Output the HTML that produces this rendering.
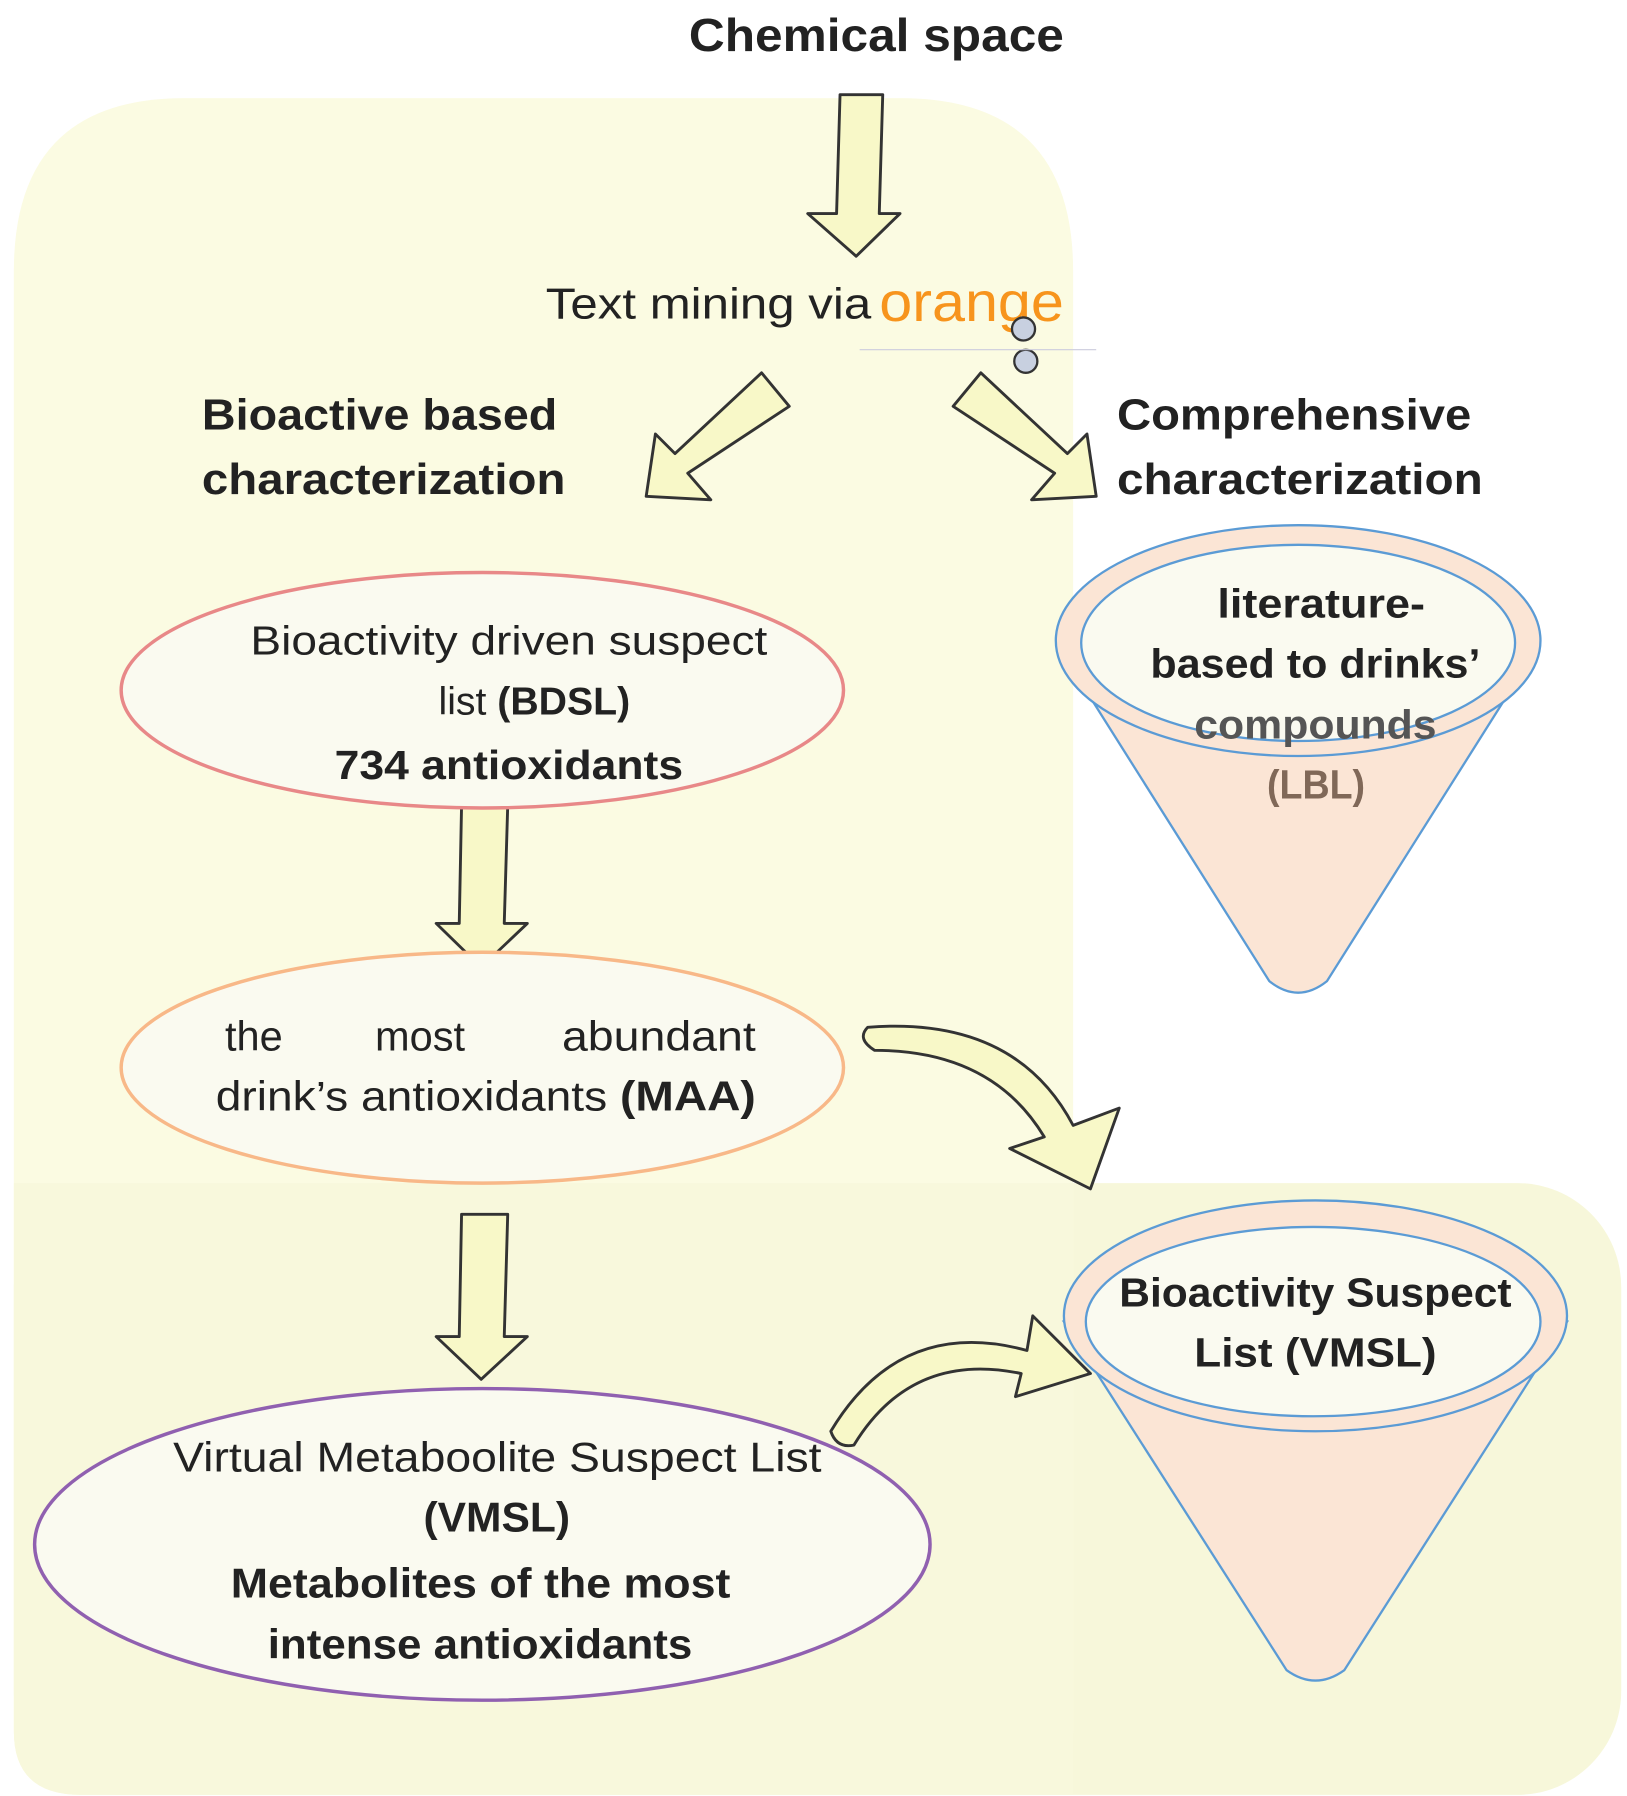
<!DOCTYPE html>
<html><head><meta charset="utf-8"><style>
html,body{margin:0;padding:0;background:#fff}
svg{display:block}
text{font-family:"Liberation Sans",sans-serif;fill:#222}
.b{font-weight:bold}
</style></head><body>
<svg width="1627" height="1796" viewBox="0 0 1410 1556" preserveAspectRatio="none" xmlns="http://www.w3.org/2000/svg">
<rect x="12" y="1025" width="1393" height="530" rx="90" fill="#f7f7da"/>
<path d="M160 85 H780 Q930 85 930 235 V1500 Q930 1555 875 1555 H70 Q12 1555 12 1500 V235 Q12 85 160 85 Z" fill="#fbfbe2"/>
<path d="M12 1025 H930 V1555 H70 Q12 1555 12 1500 Z" fill="#f8f8dc"/>
<text x="597" y="44" class="b" font-size="40" textLength="325" lengthAdjust="spacingAndGlyphs">Chemical space</text>
<g fill="#f8f8c8" stroke="#333" stroke-width="2.5" stroke-linejoin="round">
<polygon points="728,82 765,82 762,185 780,185 742,222 700,185 725,185"/>
<polygon points="400,698 440,698 437,800 457,800 417,838 378,800 398,800"/>
<polygon points="400,1052 440,1052 437,1158 457,1158 417,1195 378,1158 398,1158"/>
<polygon points="660,323 684,352 596,410 616,433 560,430 568,376 585,393"/>
<polygon points="850,323 826,352 914,410 894,433 950,430 942,376 925,393"/>
<path d="M752 890 Q880 880 930 975 L970 960 L945 1030 L875 995 L905 985 Q860 910 758 910 Q742 900 752 890 Z"/>
<path d="M720 1240 Q780 1140 890 1170 L895 1140 L945 1190 L880 1210 L885 1190 Q790 1170 740 1252 Q725 1255 720 1240 Z"/>
</g>
<text x="473" y="276" font-size="38" textLength="282" lengthAdjust="spacingAndGlyphs">Text mining via</text>
<text x="762" y="278" font-size="48" style="fill:#f7941d" textLength="160" lengthAdjust="spacingAndGlyphs">orange</text>
<circle cx="887" cy="285" r="10" fill="#c8d0e0" stroke="#333" stroke-width="2"/>
<circle cx="889" cy="313" r="10" fill="#c8d0e0" stroke="#333" stroke-width="2"/>
<line x1="745" y1="303" x2="950" y2="303" stroke="#ccd" stroke-width="1"/>
<text x="175" y="372" class="b" font-size="38" textLength="308" lengthAdjust="spacingAndGlyphs">Bioactive based</text>
<text x="175" y="428" class="b" font-size="38" textLength="315" lengthAdjust="spacingAndGlyphs">characterization</text>
<text x="968" y="372" class="b" font-size="38" textLength="307" lengthAdjust="spacingAndGlyphs">Comprehensive</text>
<text x="968" y="428" class="b" font-size="38" textLength="317" lengthAdjust="spacingAndGlyphs">characterization</text>
<ellipse cx="418" cy="598" rx="313" ry="102" fill="#fafaf0" stroke="#e88888" stroke-width="3"/>
<text x="217" y="567" font-size="35" textLength="448" lengthAdjust="spacingAndGlyphs">Bioactivity driven suspect</text>
<text x="380" y="619" font-size="34">list <tspan class="b">(BDSL)</tspan></text>
<text x="290" y="675" class="b" font-size="35" textLength="302" lengthAdjust="spacingAndGlyphs">734 antioxidants</text>
<ellipse cx="418" cy="925" rx="313" ry="100" fill="#fafaf0" stroke="#f8b888" stroke-width="3"/>
<text x="195" y="910" font-size="36">the</text>
<text x="325" y="910" font-size="36">most</text>
<text x="487" y="910" font-size="36" textLength="168" lengthAdjust="spacingAndGlyphs">abundant</text>
<text x="187" y="962" font-size="36" textLength="468" lengthAdjust="spacingAndGlyphs">drink’s antioxidants <tspan class="b">(MAA)</tspan></text>
<ellipse cx="418" cy="1338" rx="388" ry="135" fill="#fafaf0" stroke="#9060b0" stroke-width="3"/>
<text x="150" y="1275" font-size="36" textLength="562" lengthAdjust="spacingAndGlyphs">Virtual Metaboolite Suspect List</text>
<text x="367" y="1327" class="b" font-size="36" textLength="127" lengthAdjust="spacingAndGlyphs">(VMSL)</text>
<text x="200" y="1384" class="b" font-size="36" textLength="433" lengthAdjust="spacingAndGlyphs">Metabolites of the most</text>
<text x="232" y="1437" class="b" font-size="36" textLength="368" lengthAdjust="spacingAndGlyphs">intense antioxidants</text>
<path d="M917 560 L1100 850 Q1125 870 1150 850 L1333 560 Z" fill="#fbe5d5" stroke="#5b9bd5" stroke-width="2"/>
<ellipse cx="1125" cy="555" rx="210" ry="100" fill="#fbe5d5" stroke="#5b9bd5" stroke-width="2"/>
<ellipse cx="1125" cy="557" rx="188" ry="85" fill="#fafaf0" stroke="#5b9bd5" stroke-width="2"/>
<text x="1055" y="535" class="b" font-size="35" textLength="180" lengthAdjust="spacingAndGlyphs">literature-</text>
<text x="997" y="587" class="b" font-size="35" textLength="286" lengthAdjust="spacingAndGlyphs">based to drinks’</text>
<text x="1035" y="640" class="b" font-size="35" style="fill:#555" textLength="210" lengthAdjust="spacingAndGlyphs">compounds</text>
<text x="1098" y="692" class="b" font-size="35" style="fill:#806858" textLength="85" lengthAdjust="spacingAndGlyphs">(LBL)</text>
<path d="M922 1145 L1115 1447 Q1140 1465 1165 1447 L1358 1145 Z" fill="#fbe5d5" stroke="#5b9bd5" stroke-width="2"/>
<ellipse cx="1140" cy="1140" rx="218" ry="100" fill="#fbe5d5" stroke="#5b9bd5" stroke-width="2"/>
<ellipse cx="1138" cy="1145" rx="197" ry="82" fill="#fafaf0" stroke="#5b9bd5" stroke-width="2"/>
<text x="970" y="1132" class="b" font-size="35" textLength="340" lengthAdjust="spacingAndGlyphs">Bioactivity Suspect</text>
<text x="1035" y="1184" class="b" font-size="35" textLength="210" lengthAdjust="spacingAndGlyphs">List  (VMSL)</text>
</svg>
</body></html>
